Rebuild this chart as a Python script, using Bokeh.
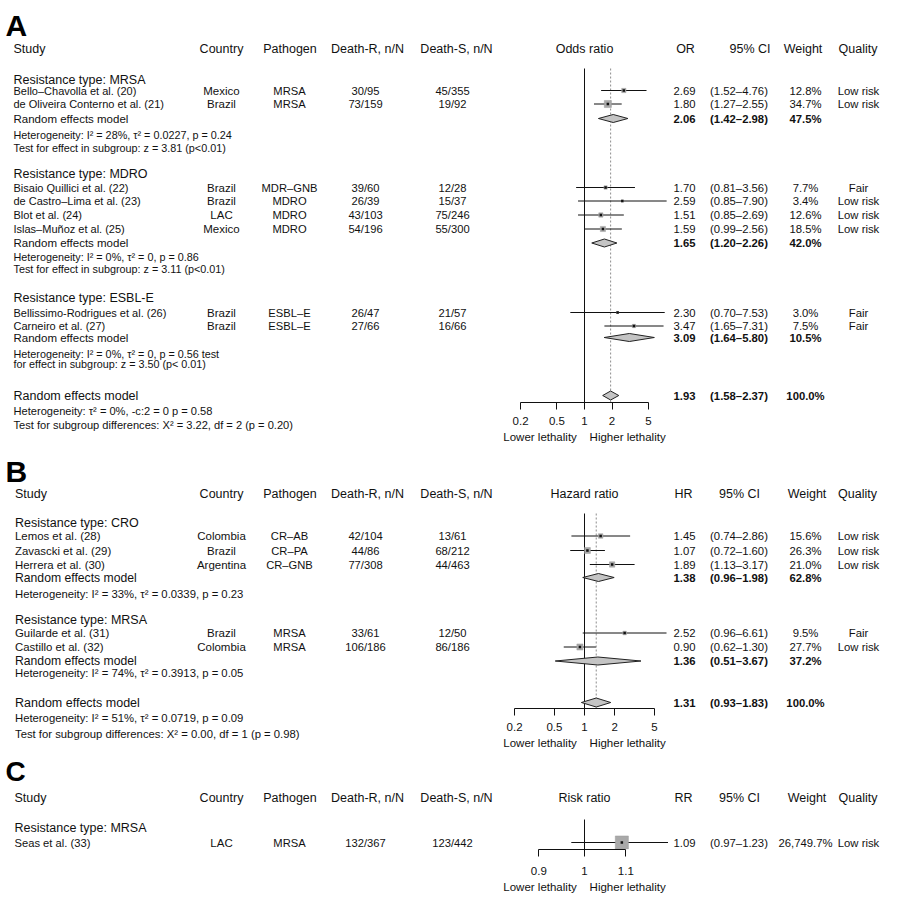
import math
from bokeh.plotting import figure
from bokeh.layouts import column, row
from bokeh.models import ColumnDataSource, Range1d, FixedTicker, NumeralTickFormatter, Title
from bokeh.core.properties import value
from bokeh.embed import file_html
from bokeh.resources import INLINE

FONT = "Liberation Sans"

# ======================= DATA =======================
# ---- Panel A : odds ratio ----
A_groups = ["Resistance type: MRSA", "Resistance type: MDRO", "Resistance type: ESBL-E"]
A_study = ["Bello–Chavolla et al. (20)", "de Oliveira Conterno et al. (21)",
           "Bisaio Quillici et al. (22)", "de Castro–Lima et al. (23)", "Blot et al. (24)",
           "Islas–Muñoz et al. (25)", "Bellissimo-Rodrigues et al. (26)", "Carneiro et al. (27)"]
A_country = ["Mexico", "Brazil", "Brazil", "Brazil", "LAC", "Mexico", "Brazil", "Brazil"]
A_pathogen = ["MRSA", "MRSA", "MDR–GNB", "MDRO", "MDRO", "MDRO", "ESBL–E", "ESBL–E"]
A_death_r = ["30/95", "73/159", "39/60", "26/39", "43/103", "54/196", "26/47", "27/66"]
A_death_s = ["45/355", "19/92", "12/28", "15/37", "75/246", "55/300", "21/57", "16/66"]
A_est = [2.69, 1.80, 1.70, 2.59, 1.51, 1.59, 2.30, 3.47]
A_lo = [1.52, 1.27, 0.81, 0.85, 0.85, 0.99, 0.70, 1.65]
A_hi = [4.76, 2.55, 3.56, 7.90, 2.69, 2.56, 7.53, 7.31]
A_weight = [12.8, 34.7, 7.7, 3.4, 12.6, 18.5, 3.0, 7.5]
A_quality = ["Low risk", "Low risk", "Fair", "Low risk", "Low risk", "Low risk", "Fair", "Fair"]
A_sub_est = [2.06, 1.65, 3.09]
A_sub_lo = [1.42, 1.20, 1.64]
A_sub_hi = [2.98, 2.26, 5.80]
A_sub_weight = [47.5, 42.0, 10.5]
A_sub_notes = [["Heterogeneity: I² = 28%, τ² = 0.0227, p = 0.24",
                "Test for effect in subgroup: z = 3.81 (p<0.01)"],
               ["Heterogeneity: I² = 0%, τ² = 0, p = 0.86",
                "Test for effect in subgroup: z = 3.11 (p<0.01)"],
               ["Heterogeneity: I² = 0%, τ² = 0, p = 0.56 test",
                "for effect in subgroup: z = 3.50 (p< 0.01)"]]
A_overall = [1.93, 1.58, 2.37, 100.0]
A_overall_notes = ["Heterogeneity: τ² = 0%, -c:2 = 0  p = 0.58",
                   "Test for subgroup differences: X² = 3.22, df = 2 (p = 0.20)"]
A_ticks = [0.2, 0.5, 1, 2, 5]

# ---- Panel B : hazard ratio ----
B_groups = ["Resistance type: CRO", "Resistance type: MRSA"]
B_study = ["Lemos et al. (28)", "Zavascki et al. (29)", "Herrera et al. (30)",
           "Guilarde et al. (31)", "Castillo et al. (32)"]
B_country = ["Colombia", "Brazil", "Argentina", "Brazil", "Colombia"]
B_pathogen = ["CR–AB", "CR–PA", "CR–GNB", "MRSA", "MRSA"]
B_death_r = ["42/104", "44/86", "77/308", "33/61", "106/186"]
B_death_s = ["13/61", "68/212", "44/463", "12/50", "86/186"]
B_est = [1.45, 1.07, 1.89, 2.52, 0.90]
B_lo = [0.74, 0.72, 1.13, 0.96, 0.62]
B_hi = [2.86, 1.60, 3.17, 6.61, 1.30]
B_weight = [15.6, 26.3, 21.0, 9.5, 27.7]
B_quality = ["Low risk", "Low risk", "Low risk", "Fair", "Low risk"]
B_sub_est = [1.38, 1.36]
B_sub_lo = [0.96, 0.51]
B_sub_hi = [1.98, 3.67]
B_sub_weight = [62.8, 37.2]
B_sub_notes = [["Heterogeneity: I² = 33%,  τ² = 0.0339, p = 0.23"],
               ["Heterogeneity: I² = 74%,  τ² = 0.3913, p = 0.05"]]
B_overall = [1.31, 0.93, 1.83, 100.0]
B_overall_notes = ["Heterogeneity:  I² = 51%,  τ² = 0.0719,  p = 0.09",
                   "Test for subgroup differences: X² = 0.00, df = 1 (p = 0.98)"]
B_ticks = [0.2, 0.5, 1, 2, 5]

# ---- Panel C : risk ratio ----
C_groups = ["Resistance type: MRSA"]
C_study = ["Seas et al. (33)"]
C_country = ["LAC"]
C_pathogen = ["MRSA"]
C_death_r = ["132/367"]
C_death_s = ["123/442"]
C_est = [1.09]
C_lo = [0.97]
C_hi = [1.23]
C_weight = [26749.7]
C_quality = ["Low risk"]
C_ticks = [0.9, 1, 1.1]

# ======================= LAYOUT =======================
X0, XMID, XR, X1 = 0, 500, 668, 900
XONE = 584
W_LEFT, W_MID, W_RIGHT = XMID - X0, XR - XMID, X1 - XR

LAY = {
    "A": dict(H=450, axis=402, vtop=68, letter=25, letter_fs=30, header=48,
              groups=[79, 173, 297],
              studies=[90, 103.5, 187, 200.5, 214.5, 228.5, 312, 325.5],
              rem=[118, 242.5, 337],
              notes=[[134, 147], [256.5, 268], [353, 363.5]],
              overall=395, note_standoff=[0, 0],
              ppd=91.5, k=1.2, fs_study=11, fs_note=10.8, fs_rem=11.5, fs_onote=11.1,
              rhead_x=[685, 749.5, 802.5, 857.5], xs=13, lab_standoff=7),
    "B": dict(H=304, axis=258, vtop=63, letter=21, letter_fs=30, header=43,
              groups=[72, 169],
              studies=[85.5, 100, 114, 182.5, 196.5],
              rem=[127, 210.5],
              notes=[[143], [222.5]],
              overall=252, note_standoff=[3, 0],
              ppd=100.0, k=1.15, fs_study=11.4, fs_note=11.3, fs_rem=12.2, fs_onote=11.3,
              rhead_x=[683, 739, 806.5, 857], xs=14.5, lab_standoff=7),
    "C": dict(H=154, axis=95, vtop=65, letter=17, letter_fs=28, header=43,
              groups=[73], studies=[88], rem=[], notes=[],
              overall=None, note_standoff=[],
              ppd=998.0, k=0.08, fs_study=11.2, fs_note=11, fs_rem=12, fs_onote=11,
              rhead_x=[683, 739, 806.5, 857.5], xs=14, lab_standoff=10),
}


def base_fig(w, h, xr, yr, bottom):
    p = figure(width=w, height=h, x_range=xr, y_range=yr, output_backend="svg",
               toolbar_location=None, x_axis_location=None, y_axis_location=None,
               min_border=0, min_border_bottom=bottom)
    p.outline_line_color = None
    p.grid.visible = False
    p.background_fill_color = "white"
    p.border_fill_color = "white"
    return p


def txt(p, xs, ys, texts, size, align="left", style="normal", color="#111111"):
    if len(texts) == 0:
        return
    src = ColumnDataSource(dict(x=list(xs), y=list(ys), t=list(texts)))
    p.text(x="x", y="y", text="t", source=src, text_font=value(FONT),
           text_font_size=value(f"{size}px"), text_align=align, text_baseline="middle",
           text_font_style=style, text_color=color)


def fmt_est(v):
    return f"{v:.2f}"


def fmt_ci(lo, hi):
    return f"({lo:.2f}–{hi:.2f})"


def fmt_w(w):
    return f"{w:,.1f}%"


def build_panel(d, L):
    H, AX = L["H"], L["axis"]
    BOT = H - AX
    n = len(d["study"])
    # ---------------- left table ----------------
    pl = base_fig(W_LEFT, H, Range1d(X0, XMID), Range1d(AX, 0), BOT)
    txt(pl, [5], [L["letter"]], [d["letter"]], L["letter_fs"], style="bold", color="black")
    txt(pl, [L["xs"]], [L["header"]], ["Study"], 12.5)
    txt(pl, [221, 289.5, 367, 456], [L["header"]] * 4,
        ["Country", "Pathogen", "Death-R, n/N", "Death-S, n/N"], 12.5, align="center")
    txt(pl, [L["xs"]] * len(d["groups"]), L["groups"], d["groups"], 12.5)
    txt(pl, [L["xs"]] * n, L["studies"], d["study"], L["fs_study"])
    txt(pl, [221] * n, L["studies"], d["country"], 11.5, align="center")
    txt(pl, [289] * n, L["studies"], d["pathogen"], 11.2, align="center")
    txt(pl, [365] * n, L["studies"], d["death_r"], 11.2, align="center")
    txt(pl, [452] * n, L["studies"], d["death_s"], 11.2, align="center")
    txt(pl, [L["xs"]] * len(L["rem"]), L["rem"], ["Random effects model"] * len(L["rem"]),
        L["fs_rem"])
    for notes, ys in zip(d.get("sub_notes", []), L["notes"]):
        txt(pl, [L["xs"]] * len(notes), ys[:len(notes)], notes, L["fs_note"])
    if L["overall"] is not None:
        txt(pl, [L["xs"]], [L["overall"]], ["Random effects model"], 12.5)
        # notes that sit beside the axis, below the plotting frame
        for t, so in zip(d["overall_notes"], L["note_standoff"]):
            tt = Title(text=t, align="left", offset=L["xs"] - X0, standoff=so,
                       text_font=FONT, text_font_size=f"{L['fs_onote']}px",
                       text_font_style="normal", text_color="#111111")
            pl.add_layout(tt, "below")

    # ---------------- forest ----------------
    half = (XONE - XMID) / L["ppd"]
    pm = figure(width=W_MID, height=H, x_axis_type="log",
                x_range=Range1d(10 ** (-half), 10 ** half), y_range=Range1d(AX, 0),
                output_backend="svg", toolbar_location=None,
                x_axis_location="below", y_axis_location=None,
                min_border=0, min_border_bottom=BOT)
    pm.outline_line_color = None
    pm.grid.visible = False
    pm.background_fill_color = "white"
    pm.border_fill_color = "white"
    ax = pm.xaxis[0]
    ticks = d["ticks"]
    ax.ticker = FixedTicker(ticks=ticks, minor_ticks=[])
    ax.formatter = NumeralTickFormatter(format="0.[0]")
    ax.bounds = (min(ticks), max(ticks))
    ax.major_tick_in = 0
    ax.major_tick_out = 7
    ax.minor_tick_in = 0
    ax.minor_tick_out = 0
    ax.axis_line_color = "#111111"
    ax.major_tick_line_color = "#111111"
    ax.major_label_text_font = FONT
    ax.major_label_text_font_size = "11.5px"
    ax.major_label_text_color = "#111111"
    ax.major_label_standoff = L["lab_standoff"]
    ax.axis_label = "Lower lethality\u00a0\u00a0\u00a0\u00a0Higher lethality"
    ax.axis_label_text_font = FONT
    ax.axis_label_text_font_size = "11.5px"
    ax.axis_label_text_font_style = "normal"
    ax.axis_label_text_color = "#111111"
    ax.axis_label_standoff = 3

    txt(pm, [1.0], [L["header"]], [d["measure"]], 12.5, align="center")
    pm.segment(x0=[1.0], x1=[1.0], y0=[L["vtop"]], y1=[AX], line_color="#111111", line_width=1)
    if d.get("overall") is not None:
        pm.segment(x0=[d["overall"][0]], x1=[d["overall"][0]], y0=[L["vtop"]], y1=[AX],
                   line_color="#8c8c8c", line_width=1, line_dash="2 2")
    src = ColumnDataSource(dict(est=d["est"], lo=d["lo"], hi=d["hi"], y=L["studies"],
                                s=[L["k"] * math.sqrt(w) for w in d["weight"]]))
    pm.segment(x0="lo", x1="hi", y0="y", y1="y", source=src, line_color="#111111", line_width=1)
    pm.scatter(x="est", y="y", size="s", marker="square", source=src,
               fill_color="#a9a9a9", line_color="#9a9a9a", line_width=0.5)
    pm.scatter(x="est", y="y", size=2.5, marker="square", source=src,
               fill_color="#111111", line_color=None)
    dxs, dys = [], []
    hh = 4
    for e, lo, hi, y in zip(d.get("sub_est", []), d.get("sub_lo", []), d.get("sub_hi", []), L["rem"]):
        dxs.append([lo, e, hi, e])
        dys.append([y, y - hh, y, y + hh])
    if d.get("overall") is not None:
        e, lo, hi, _ = d["overall"]
        y = L["overall"]
        dxs.append([lo, e, hi, e])
        dys.append([y, y - hh - 0.5, y, y + hh + 0.5])
    if dxs:
        pm.patches(xs=dxs, ys=dys, fill_color="#c4c4c4", line_color="#222222", line_width=1)

    # ---------------- right table ----------------
    pr = base_fig(W_RIGHT, H, Range1d(XR, X1), Range1d(AX, 0), BOT)
    txt(pr, L["rhead_x"], [L["header"]] * 4, [d["abbr"], "95% CI", "Weight", "Quality"],
        12.5, align="center")
    txt(pr, [684] * n, L["studies"], [fmt_est(v) for v in d["est"]], 11.3, align="center")
    txt(pr, [738.5] * n, L["studies"], [fmt_ci(a, b) for a, b in zip(d["lo"], d["hi"])],
        11.3, align="center")
    txt(pr, [805] * n, L["studies"], [fmt_w(w) for w in d["weight"]], 11.3, align="center")
    txt(pr, [858] * n, L["studies"], d["quality"], 11.3, align="center")
    m = len(d.get("sub_est", []))
    if m:
        txt(pr, [684] * m, L["rem"], [fmt_est(v) for v in d["sub_est"]], 11.3,
            align="center", style="bold")
        txt(pr, [738.5] * m, L["rem"], [fmt_ci(a, b) for a, b in zip(d["sub_lo"], d["sub_hi"])],
            11.3, align="center", style="bold")
        txt(pr, [805] * m, L["rem"], [fmt_w(w) for w in d["sub_weight"]], 11.3,
            align="center", style="bold")
    if d.get("overall") is not None:
        e, lo, hi, w = d["overall"]
        y = L["overall"]
        txt(pr, [684, 738.5, 805], [y] * 3, [fmt_est(e), fmt_ci(lo, hi), fmt_w(w)], 11.3,
            align="center", style="bold")
    return row(pl, pm, pr)


A = dict(letter="A", measure="Odds ratio", abbr="OR", groups=A_groups, study=A_study,
         country=A_country, pathogen=A_pathogen, death_r=A_death_r, death_s=A_death_s,
         est=A_est, lo=A_lo, hi=A_hi, weight=A_weight, quality=A_quality,
         sub_est=A_sub_est, sub_lo=A_sub_lo, sub_hi=A_sub_hi, sub_weight=A_sub_weight,
         sub_notes=A_sub_notes, overall=A_overall, overall_notes=A_overall_notes,
         ticks=A_ticks)
B = dict(letter="B", measure="Hazard ratio", abbr="HR", groups=B_groups, study=B_study,
         country=B_country, pathogen=B_pathogen, death_r=B_death_r, death_s=B_death_s,
         est=B_est, lo=B_lo, hi=B_hi, weight=B_weight, quality=B_quality,
         sub_est=B_sub_est, sub_lo=B_sub_lo, sub_hi=B_sub_hi, sub_weight=B_sub_weight,
         sub_notes=B_sub_notes, overall=B_overall, overall_notes=B_overall_notes,
         ticks=B_ticks)
C = dict(letter="C", measure="Risk ratio", abbr="RR", groups=C_groups, study=C_study,
         country=C_country, pathogen=C_pathogen, death_r=C_death_r, death_s=C_death_s,
         est=C_est, lo=C_lo, hi=C_hi, weight=C_weight, quality=C_quality,
         overall=None, overall_notes=[], ticks=C_ticks)

layout = column(build_panel(A, LAY["A"]), build_panel(B, LAY["B"]), build_panel(C, LAY["C"]),
                spacing=0)

open("out.html", "w").write(file_html(layout, INLINE))
